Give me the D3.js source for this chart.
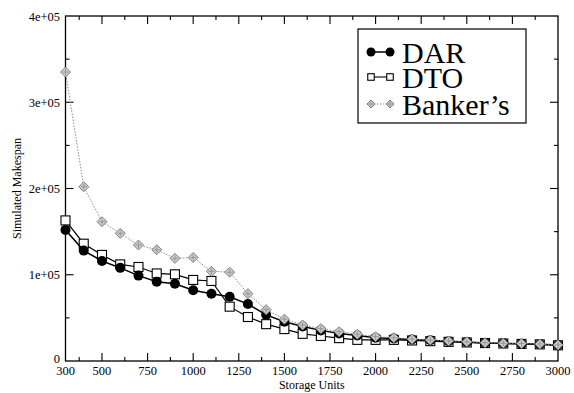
<!DOCTYPE html>
<html>
<head>
<meta charset="utf-8">
<script src="https://cdn.jsdelivr.net/npm/d3@7"></script>
<style>
  html, body { margin: 0; padding: 0; background: #fff; }
  svg { display: block; }
  text { font-family: "Liberation Serif", "DejaVu Serif", serif; fill: #000; }
</style>
</head>
<body>
<div id="chart"></div>
<script>
// Storage units simulated (x values)
const storageUnits = [300, 400, 500, 600, 700, 800, 900, 1000, 1100, 1200, 1300, 1400, 1500, 1600,
  1700, 1800, 1900, 2000, 2100, 2200, 2300, 2400, 2500, 2600, 2700, 2800, 2900, 3000];

// Simulated makespan per policy
const darValues = [152000, 128000, 116000, 108000, 99000, 92000, 89500, 82000, 78000, 74500, 66000, 53500,
  45500, 40000, 35500, 32000, 29500, 27000, 26000, 25000, 24000, 23000, 22000, 21000, 20500, 20000, 19500, 18500];
const dtoValues = [163000, 136000, 123000, 112000, 109000, 101500, 100500, 94000, 92800, 63000, 51000, 42700,
  37000, 31500, 29000, 26500, 24500, 24500, 24500, 23800, 23000, 22200, 21500, 20800, 20300, 19800, 19300, 18200];
const bankersValues = [335000, 202000, 161500, 148000, 134500, 129000, 119000, 120000, 104000, 103000, 78000, 59500,
  48500, 41700, 37500, 34000, 31000, 28200, 27000, 25300, 24300, 23300, 22300, 21200, 20700, 20200, 19700, 18700];

const seriesNames = ["DAR", "DTO", "Banker\u2019s"];

// Axis ticks
const xTickLabels = [300, 500, 750, 1000, 1250, 1500, 1750, 2000, 2250, 2500, 2750, 3000];
const xMajorTicks = [500, 750, 1000, 1250, 1500, 1750, 2000, 2250, 2500, 2750];
const xMinorTicks = [375, 625, 875, 1125, 1375, 1625, 1875, 2125, 2375, 2625, 2875];
const yMajorTicks = [0, 100000, 200000, 300000, 400000];
const yMinorTicks = [50000, 150000, 250000, 350000];
const yTickLabels = ["0", "1e+05", "2e+05", "3e+05", "4e+05"];

const W = 574, H = 393;
const plot = { left: 65.5, right: 558, top: 16, bottom: 361 };

const svg = d3.select("#chart").append("svg").attr("width", W).attr("height", H);

const x = d3.scaleLinear().domain([300, 3000]).range([plot.left, plot.right]);
const y = d3.scaleLinear().domain([0, 400000]).range([plot.bottom, plot.top]);

// Tick marks on all four sides, pointing inward
const tickG = svg.append("g").attr("stroke", "#000").attr("stroke-width", 1.1);
function vTicks(vals, len) {
  vals.forEach(v => {
    tickG.append("line").attr("x1", x(v)).attr("x2", x(v)).attr("y1", plot.bottom).attr("y2", plot.bottom - len);
    tickG.append("line").attr("x1", x(v)).attr("x2", x(v)).attr("y1", plot.top).attr("y2", plot.top + len);
  });
}
function hTicks(vals, len) {
  vals.forEach(v => {
    tickG.append("line").attr("y1", y(v)).attr("y2", y(v)).attr("x1", plot.left).attr("x2", plot.left + len);
    tickG.append("line").attr("y1", y(v)).attr("y2", y(v)).attr("x1", plot.right).attr("x2", plot.right - len);
  });
}
vTicks(xMajorTicks, 8);
vTicks(xMinorTicks, 4);
hTicks(yMajorTicks.slice(1, -1), 8);
hTicks(yMinorTicks, 4);

// Frame
svg.append("rect")
  .attr("x", plot.left).attr("y", plot.top)
  .attr("width", plot.right - plot.left).attr("height", plot.bottom - plot.top)
  .attr("fill", "none").attr("stroke", "#000").attr("stroke-width", 1.3);

// Tick labels
svg.append("g").selectAll("text").data(xTickLabels).join("text")
  .attr("x", d => x(d)).attr("y", 375)
  .attr("text-anchor", "middle").attr("font-size", 12.5)
  .text(d => d);

svg.append("g").selectAll("text").data(yMajorTicks).join("text")
  .attr("x", 60).attr("y", (d, i) => d === 0 ? y(d) + 2 : y(d) + 4.5)
  .attr("text-anchor", "end").attr("font-size", 12.5)
  .text((d, i) => yTickLabels[i]);

// Axis titles
svg.append("text")
  .attr("x", (plot.left + plot.right) / 2).attr("y", 389)
  .attr("text-anchor", "middle").attr("font-size", 12)
  .text("Storage Units");

svg.append("text")
  .attr("transform", `translate(21,${(plot.top + plot.bottom) / 2}) rotate(-90)`)
  .attr("text-anchor", "middle").attr("font-size", 12)
  .text("Simulated Makespan");

// Marker painters
function circleMark(g, cx, cy, r) {
  g.append("circle").attr("cx", cx).attr("cy", cy).attr("r", r).attr("fill", "#000");
}
function squareMark(g, cx, cy, s) {
  g.append("rect").attr("x", cx - s / 2).attr("y", cy - s / 2).attr("width", s).attr("height", s)
    .attr("fill", "#fff").attr("stroke", "#000").attr("stroke-width", 1.1);
}
function diamondMark(g, cx, cy, r) {
  g.append("path")
    .attr("d", `M${cx},${cy - r}L${cx + r},${cy}L${cx},${cy + r}L${cx - r},${cy}Z`)
    .attr("fill", "#cdcdcd").attr("stroke", "#7d7d7d").attr("stroke-width", 1);
  g.append("path")
    .attr("d", `M${cx - r * 0.6},${cy}L${cx + r * 0.6},${cy}M${cx},${cy - r * 0.6}L${cx},${cy + r * 0.6}`)
    .attr("stroke", "#8e8e8e").attr("stroke-width", 0.9);
}

const line = d3.line().x(d => x(d[0])).y(d => y(d[1]));
const pts = vals => storageUnits.map((u, i) => [u, vals[i]]);

// DTO: open squares, solid line
const gDto = svg.append("g");
gDto.append("path").datum(pts(dtoValues)).attr("d", line)
  .attr("fill", "none").attr("stroke", "#000").attr("stroke-width", 1.2);

// DAR: filled circles, solid line
const gDar = svg.append("g");
gDar.append("path").datum(pts(darValues)).attr("d", line)
  .attr("fill", "none").attr("stroke", "#000").attr("stroke-width", 1.5);

pts(dtoValues).forEach(p => squareMark(gDto, x(p[0]), y(p[1]), 9));
pts(darValues).forEach(p => circleMark(gDar, x(p[0]), y(p[1]), 5));

// Banker's: grey diamonds, dotted line
const gBank = svg.append("g");
gBank.append("path").datum(pts(bankersValues)).attr("d", line)
  .attr("fill", "none").attr("stroke", "#8a8a8a").attr("stroke-width", 1)
  .attr("stroke-dasharray", "1.5,1.5");
pts(bankersValues).forEach(p => diamondMark(gBank, x(p[0]), y(p[1]), 5));

// Legend
const lg = svg.append("g");
lg.append("rect").attr("x", 358).attr("y", 29).attr("width", 168).attr("height", 94)
  .attr("fill", "#fff").attr("stroke", "#000").attr("stroke-width", 1.2);
const rowBase = [63, 88, 115];
const sx1 = 371, sx2 = 390;
seriesNames.forEach((name, i) => {
  const cy = rowBase[i] - 11;
  if (i === 0) {
    lg.append("line").attr("x1", sx1).attr("x2", sx2).attr("y1", cy).attr("y2", cy)
      .attr("stroke", "#000").attr("stroke-width", 1.5);
    circleMark(lg, sx1, cy, 4.5); circleMark(lg, sx2, cy, 4.5);
  } else if (i === 1) {
    lg.append("line").attr("x1", sx1).attr("x2", sx2).attr("y1", cy).attr("y2", cy)
      .attr("stroke", "#000").attr("stroke-width", 1.1);
    squareMark(lg, sx1, cy, 6.5); squareMark(lg, sx2, cy, 6.5);
  } else {
    lg.append("line").attr("x1", sx1).attr("x2", sx2).attr("y1", cy).attr("y2", cy)
      .attr("stroke", "#8a8a8a").attr("stroke-width", 1).attr("stroke-dasharray", "1.5,1.5");
    diamondMark(lg, sx1, cy, 4); diamondMark(lg, sx2, cy, 4);
  }
  lg.append("text").attr("x", 402).attr("y", rowBase[i])
    .attr("font-size", 30).text(name);
});
</script>
</body>
</html>
